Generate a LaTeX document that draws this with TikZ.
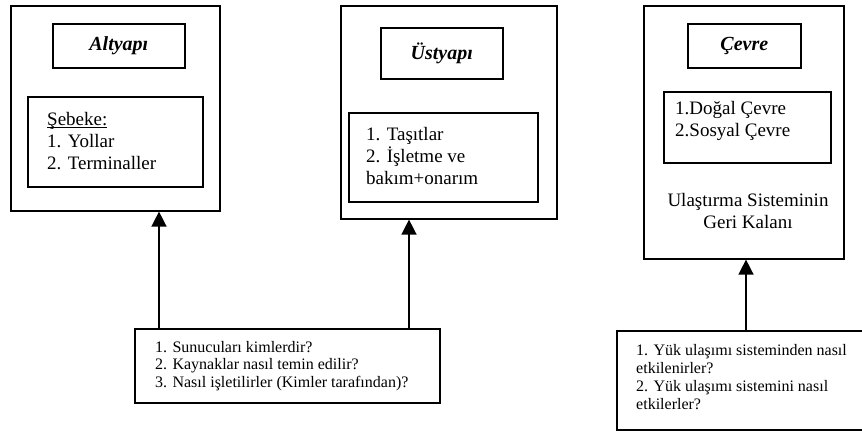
\documentclass[tikz,border=0pt]{standalone}
\usepackage{fontspec}
\setmainfont{Liberation Serif}
\usetikzlibrary{arrows.meta, positioning}

\begin{document}
\begin{tikzpicture}[x=1pt,y=-1pt,>={Triangle[width=15pt,length=15pt]},
      frame/.style={draw,line width=1.6pt,anchor=north west,inner sep=0pt},
      title/.style={frame,font=\fontsize{20}{22}\selectfont\bfseries\itshape},
      body/.style={align=left,anchor=west,inner sep=0pt,font=\fontsize{19}{21.7}\selectfont},
      soru/.style={body,font=\fontsize{16}{17.8}\selectfont},
      arrow/.style={->,line width=1.5pt}]
      \useasboundingbox (0,0) rectangle (862,431);
      \node[frame,minimum width=209pt,minimum height=205pt] (alt) at (10,5) {};
      \node[title,minimum width=132pt,minimum height=44pt] (altT) at (52,23) {Altyapı};
      \node[frame,minimum width=175pt,minimum height=90pt] (altK) at (27,96) {};
      \node[body] (altL) at (47,141) {\underline{\smash{Şebeke:}\vphantom{Sb}}\\1. Yollar\\2. Terminaller};
      \node[frame,minimum width=216pt,minimum height=213pt] (ust) at (340,5) {};
      \node[title,minimum width=122pt,minimum height=51pt] (ustT) at (380,27) {Üstyapı};
      \node[frame,minimum width=189pt,minimum height=89pt] (ustK) at (348,112) {};
      \node[body] (ustL) at (366,156) {1. Taşıtlar\\2. İşletme ve\\bakım+onarım};
      \node[frame,minimum width=200pt,minimum height=253pt] (cev) at (643,5) {};
      \node[title,minimum width=113pt,minimum height=44pt] (cevT) at (687,23) {Çevre};
      \node[frame,minimum width=167pt,minimum height=71pt] (cevK) at (663,91) {};
      \node[body] (cevL) at (675,121) {1.Doğal Çevre\\2.Sosyal Çevre};
      \node[body,align=center,anchor=center] (cevR) at (748,211) {Ulaştırma Sisteminin\\Geri Kalanı};
      \node[frame,minimum width=305pt,minimum height=74pt] (soru1) at (134,328) {};
      \node[soru] (soru1L) at (155,366)
        {1. Sunucuları kimlerdir?\\2. Kaynaklar nasıl temin edilir?\\3. Nasıl işletilirler (Kimler tarafından)?};
      \node[frame,minimum width=250pt,minimum height=99pt] (soru2) at (616,330) {};
      \node[soru] (soru2L) at (636,377)
        {1. Yük ulaşımı sisteminden nasıl\\etkilenirler?\\2. Yük ulaşımı sistemini nasıl\\etkilerler?};
      \coordinate (k1) at (159,0);
      \coordinate (k2) at (409,0);
      \coordinate (k3) at (746,0);
      \draw[arrow] (k1 |- soru1.north) -- (k1 |- alt.south);
      \draw[arrow] (k2 |- soru1.north) -- (k2 |- ust.south);
      \draw[arrow] (k3 |- soru2.north) -- (k3 |- cev.south);
\end{tikzpicture}
\end{document}
